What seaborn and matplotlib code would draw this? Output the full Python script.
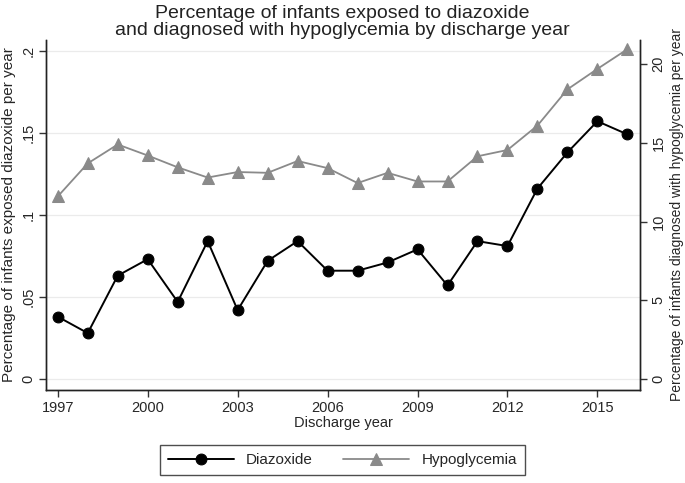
import matplotlib
matplotlib.use("Agg")
import matplotlib.pyplot as plt
import seaborn as sns
import pandas as pd

years = list(range(1997, 2017))
diazoxide = [0.038, 0.028, 0.063, 0.073, 0.047, 0.084, 0.042, 0.072, 0.084, 0.066,
             0.066, 0.071, 0.079, 0.057, 0.084, 0.081, 0.116, 0.138, 0.157, 0.149]
hypoglycemia = [11.6, 13.7, 14.9, 14.2, 13.45, 12.8, 13.15, 13.1, 13.85, 13.4,
                12.45, 13.1, 12.55, 12.55, 14.15, 14.55, 16.1, 18.4, 19.7, 20.95]
left_ticks = [0, 0.05, 0.1, 0.15, 0.2]
left_ticklabels = ["0", ".05", ".1", ".15", ".2"]
right_ticks = [0, 5, 10, 15, 20]
x_ticks = [1997, 2000, 2003, 2006, 2009, 2012, 2015]

df = pd.DataFrame({"year": years, "Diazoxide": diazoxide, "Hypoglycemia": hypoglycemia})

sns.set_style("white")
plt.rcParams["font.family"] = ["Liberation Sans", "DejaVu Sans"]

fig = plt.figure(figsize=(6.85, 4.83), dpi=100)
ax = fig.add_axes([0.0677, 0.193, 0.867, 0.724])
ax2 = ax.twinx()

grid_c = "#ebebeb"
for t in left_ticks:
    ax.axhline(t, color=grid_c, lw=0.9, zorder=0)

sns.lineplot(data=df, x="year", y="Diazoxide", ax=ax, color="black", lw=1.4,
             marker="o", markersize=7.8, markeredgecolor="black", label="Diazoxide",
             legend=False, zorder=3)
sns.lineplot(data=df, x="year", y="Hypoglycemia", ax=ax2, color="#8a8a8a", lw=1.3,
             marker="^", markersize=8.2, markeredgecolor="#8a8a8a", label="Hypoglycemia",
             legend=False, zorder=3)

ax.set_xlim(1996.62, 2016.43)
ax.set_ylim(-0.0065, 0.2064)
ax2.set_ylim(-0.68, 21.53)

ax.set_xticks(x_ticks)
ax.set_xticklabels([str(x) for x in x_ticks], fontsize=10.5)
ax.set_yticks(left_ticks)
ax.set_yticklabels(left_ticklabels, rotation=90, va="center", fontsize=10.5)
ax2.set_yticks(right_ticks)
ax2.set_yticklabels([str(t) for t in right_ticks], rotation=90, va="center", fontsize=10.5)

for a in (ax, ax2):
    a.tick_params(axis="both", direction="out", length=5, width=1, color="#333333", pad=3)
    a.spines["top"].set_visible(False)
    for s in ("left", "right", "bottom"):
        a.spines[s].set_color("#222222")
        a.spines[s].set_linewidth(1.0)
ax.tick_params(axis="x", bottom=True)
ax.tick_params(axis="y", left=True)
ax2.tick_params(axis="y", right=True)

ax.set_xlabel("Discharge year", fontsize=10.5, labelpad=1)
ax.set_ylabel("Percentage of infants exposed diazoxide per year", fontsize=11, labelpad=4)
ax2.set_ylabel("Percentage of infants diagnosed with hypoglycemia per year", fontsize=10, labelpad=3)

fig.suptitle("Percentage of infants exposed to diazoxide\nand diagnosed with hypoglycemia by discharge year",
             fontsize=14, y=0.99, color="#222222", linespacing=1.0)

h1, l1 = ax.get_legend_handles_labels()
h2, l2 = ax2.get_legend_handles_labels()
leg = fig.legend(h1 + h2, l1 + l2, loc="lower center", bbox_to_anchor=(0.5, 0.0), ncol=2,
                 frameon=True, fancybox=False, edgecolor="#222222", fontsize=11,
                 handlelength=4.3, columnspacing=2.0, borderpad=0.55)
leg.get_frame().set_linewidth(1.0)

fig.savefig("out.png", dpi=100)
